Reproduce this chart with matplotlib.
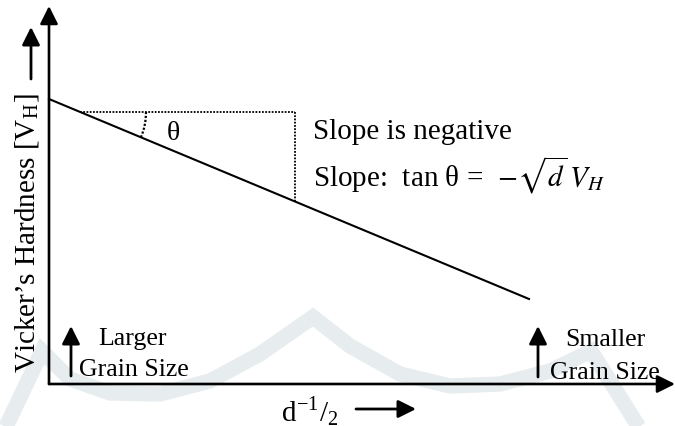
import matplotlib
matplotlib.use("Agg")
import matplotlib.pyplot as plt
from matplotlib.patches import Arc, ArrowStyle
import numpy as np

plt.rcParams['font.family'] = ['Liberation Serif', 'DejaVu Serif']
plt.rcParams['mathtext.fontset'] = 'stix'

# ---- data (schematic, in picture units: origin at the axes corner) ----
grain_x = [0, 480]          # d^-1/2
hardness_y = [285, 85]      # Vicker's hardness
tri_x = [31, 246]           # slope triangle (horizontal leg)
tri_y_top = 272
arc_radius = 66
slope_lines = ["Slope is negative", "Slope:  tan θ =  " + r"$-\sqrt{d}\,V_H$"]
ylabel_text = r"Vicker’s Hardness [V$_{\mathregular{H}}$]"
xlabel_text = r"d$^{\mathregular{-1}}$/$_{\mathregular{2}}$"
left_note = ["Larger", "Grain Size"]
right_note = ["Smaller", "Grain Size"]
# faint background watermark band (picture pixel coords)
wm_x = [5, 42, 70, 110, 160, 210, 260, 313, 350, 400, 450, 500, 550, 591, 615, 640]
wm_y = [430, 352, 380, 394, 395, 382, 355, 318, 347, 375, 387, 385, 372, 352, 390, 430]

X0, Y0 = 49, 385
fig = plt.figure(figsize=(6.75, 4.27), dpi=100)
ax = fig.add_axes([0, 0, 1, 1])
ax.set_xlim(-X0, 675 - X0)
ax.set_ylim(Y0 - 427, Y0)
ax.axis('off')

# watermark
ax.plot(np.array(wm_x) - X0, Y0 - np.array(wm_y), color='#e7ecee', lw=11,
        solid_joinstyle='miter', solid_capstyle='butt', zorder=0)

head = ArrowStyle('-|>', head_length=0.6, head_width=0.3)

def arrow(x0, y0, x1, y1, lw=2.0):
    ax.annotate('', xy=(x1, y1), xytext=(x0, y0),
                arrowprops=dict(arrowstyle=head, mutation_scale=18, lw=lw,
                                color='black', shrinkA=0, shrinkB=0),
                zorder=3)

# axes
arrow(0, 0, 0, 378, lw=1.9)
arrow(0, 0, 626, 0, lw=1.9)

# main line
ax.plot(grain_x, hardness_y, color='black', lw=1.5, zorder=3)

# slope triangle (dotted)
slope = (hardness_y[1] - hardness_y[0]) / (grain_x[1] - grain_x[0])
y_bottom = hardness_y[0] + slope * (tri_x[1] - grain_x[0])
dot = (0, (1, 0.8))
ax.plot(tri_x, [tri_y_top, tri_y_top], color='black', lw=1.3, ls=dot, zorder=2)
ax.plot([tri_x[1], tri_x[1]], [tri_y_top, y_bottom], color='black', lw=1.3, ls=dot, zorder=2)
ang = np.degrees(np.arctan(slope))
ax.add_patch(Arc((tri_x[0], tri_y_top), 2 * arc_radius, 2 * arc_radius, theta1=ang, theta2=0,
                 color='black', lw=1.6, ls=dot, zorder=2))
ax.text(124, 252, "θ", fontsize=20, ha='center', va='center')

# slope text
ax.text(264, 253, slope_lines[0], fontsize=21, ha='left', va='center')
ax.text(264, 210, slope_lines[1], fontsize=21, ha='left', va='center')

# y label and arrow
ax.text(-22, 152, ylabel_text, fontsize=21, rotation=90, ha='center', va='center')
arrow(-18, 305, -18, 357)

# x label and arrow
ax.text(232, -27, xlabel_text, fontsize=21, ha='left', va='center')
arrow(307, -25, 367, -25)

# grain size notes
arrow(22, 8, 22, 58)
ax.text(84, 46, left_note[0], fontsize=18.6, ha='center', va='center')
ax.text(30, 15, left_note[1], fontsize=18.6, ha='left', va='center')
arrow(489, 7, 489, 58)
ax.text(556, 45, right_note[0], fontsize=18.6, ha='center', va='center')
ax.text(501, 12, right_note[1], fontsize=18.6, ha='left', va='center')

fig.savefig("out.png", dpi=100)
